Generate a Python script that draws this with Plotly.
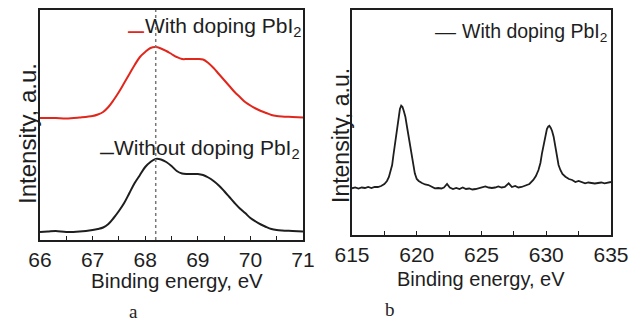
import plotly.graph_objects as go

# ---------------- data ----------------
# Panel a: Pb 4f region (binding energy, eV) and intensity (a.u.)
be_a = [66.0, 66.15, 66.3, 66.5, 66.75, 67.0, 67.1, 67.2, 67.3, 67.4, 67.5, 67.6, 67.7, 67.8, 67.9,
        68.0, 68.1, 68.2, 68.3, 68.4, 68.5, 68.6, 68.7, 68.8, 68.9, 69.0, 69.1, 69.2, 69.3, 69.4,
        69.5, 69.6, 69.7, 69.8, 69.9, 70.0, 70.1, 70.2, 70.3, 70.4, 70.5, 70.6, 70.8, 71.0]
with_pbi2_a = [122, 122, 122, 121.5, 122.5, 124, 125.5, 128, 133, 140, 148, 157, 166, 175, 183,
               188, 192, 193, 191.5, 189, 186, 183, 181, 181, 181, 181, 180.5, 177, 172, 166,
               160, 154, 148, 143, 138, 134.5, 131.5, 129, 127, 125, 124, 123.5, 123, 122.5]
without_pbi2_a = [8, 8.5, 9, 8, 8.5, 10, 11, 12.5, 16, 22, 29, 37, 47, 57, 65,
                  73, 78, 81, 80.5, 78, 74, 69, 66.5, 66, 66, 66, 65, 62.5, 59, 54.5,
                  49, 43, 37, 31.5, 27, 22, 18.5, 15.5, 13, 11, 10, 9.5, 9, 8.5]
peak_ref_a = 68.2

# Panel b: I 3d region
be_b = [615.0, 615.25, 615.5, 615.75, 616.0, 616.25, 616.5, 616.75, 617.0, 617.25, 617.5, 617.7,
        617.85, 618.0, 618.1, 618.2, 618.35, 618.5, 618.6, 618.7, 618.8, 618.9, 619.0, 619.12,
        619.25, 619.38, 619.5, 619.63, 619.75, 619.85, 620.0, 620.15, 620.4, 620.65, 620.9, 621.15,
        621.4, 621.65, 621.9, 622.1, 622.34, 622.55, 622.8, 623.05, 623.3, 623.55, 623.8, 624.05,
        624.3, 624.55, 624.8, 625.05, 625.3, 625.55, 625.8, 626.05, 626.3, 626.55, 626.8, 627.1,
        627.35, 627.6, 627.85, 628.1, 628.4, 628.7, 629.0, 629.2, 629.4, 629.55, 629.67, 629.8,
        629.93, 630.05, 630.15, 630.24, 630.35, 630.45, 630.57, 630.7, 630.83, 630.95, 631.09, 631.25,
        631.48, 631.75, 632.0, 632.25, 632.5, 632.75, 633.0, 633.25, 633.5, 633.75, 634.0, 634.25,
        634.5, 634.75, 635.0]
with_pbi2_b = [46.7, 47.5, 46.5, 47.5, 47, 48, 47, 48, 48, 49, 51, 54,
               58, 64, 70, 80, 95, 110, 119, 126, 129.3, 128, 124, 118.3,
               108, 98.3, 88, 78.3, 69, 61.7, 56, 54, 52, 50.5, 50, 48,
               46.7, 47, 46.5, 47.5, 51, 47.5, 46, 47, 46, 47.5, 46, 46.5,
               45.5, 46, 47, 48, 48.5, 47.5, 47, 47.5, 48.5, 47.5, 48, 51.7,
               48, 49, 47.5, 48, 49.5, 51, 55, 59, 65, 72, 81.7, 91,
               100, 106, 108.5, 109.3, 107, 104, 98.3, 89, 78.3, 70, 65, 61,
               58.3, 56, 55, 53, 54, 52.5, 51.7, 52.5, 52, 51.5, 52, 52.5,
               51.7, 52.5, 53]

label_with = "With doping PbI<sub>2</sub>"
label_without = "Without doping PbI<sub>2</sub>"
xtitle = "Binding energy, eV"
ytitle = "Intensity, a.u."

W, H = 640, 323
def px(x):
    return x / W
def py(y):
    return 1 - y / H

FONT = "Liberation Sans, Arial, sans-serif"
SERIF = "Liberation Serif, Times New Roman, serif"
INK = "#1e1e1e"
RED = "#e1261c"

fig = go.Figure()
fig.add_trace(go.Scatter(x=be_a, y=with_pbi2_a, mode="lines", line=dict(color=RED, width=2),
                         line_shape="spline", xaxis="x", yaxis="y", showlegend=False))
fig.add_trace(go.Scatter(x=be_a, y=without_pbi2_a, mode="lines", line=dict(color=INK, width=2),
                         line_shape="spline", xaxis="x", yaxis="y", showlegend=False))
fig.add_trace(go.Scatter(x=be_b, y=with_pbi2_b, mode="lines", line=dict(color=INK, width=1.8),
                         xaxis="x2", yaxis="y2", showlegend=False))

axis_common = dict(showline=True, linecolor=INK, linewidth=1.5, mirror=True,
                   showgrid=False, zeroline=False, automargin=False)

fig.update_layout(
    width=W, height=H,
    margin=dict(l=0, r=0, t=0, b=0, pad=0, autoexpand=False),
    paper_bgcolor="white", plot_bgcolor="white",
    font=dict(family=FONT, color=INK),
    xaxis=dict(domain=[px(40), px(303)], range=[66, 71], tickmode="linear", tick0=66, dtick=1,
               ticks="inside", ticklen=4, tickwidth=1.3, tickcolor=INK,
               minor=dict(ticks="inside", ticklen=4, tickwidth=1.3, tickcolor=INK, dtick=0.5),
               tickfont=dict(size=21, family=FONT, color=INK), anchor="y", **axis_common),
    yaxis=dict(domain=[py(240), py(10)], range=[0, 230], showticklabels=False, ticks="",
               anchor="x", **axis_common),
    xaxis2=dict(domain=[px(352), px(611)], range=[615, 635], tickmode="linear", tick0=615, dtick=5,
                ticks="inside", ticklen=4, tickwidth=1.3, tickcolor=INK,
                minor=dict(ticks="inside", ticklen=4, tickwidth=1.3, tickcolor=INK, dtick=2.5),
                tickfont=dict(size=21, family=FONT, color=INK), anchor="y2", **axis_common),
    yaxis2=dict(domain=[py(235), py(10)], range=[0, 225], showticklabels=False, ticks="",
                anchor="x2", **axis_common),
)

# dotted reference line at the peak position
fig.add_shape(type="line", xref="x", yref="y domain", x0=peak_ref_a, x1=peak_ref_a, y0=0, y1=1,
              line=dict(color="#777777", width=1.5, dash="dot"))

ann = []
# axis titles
ann.append(dict(text=xtitle, x=px(177), y=py(280), font=dict(size=20.5)))
ann.append(dict(text=xtitle, x=px(481), y=py(279), font=dict(size=20)))
ann.append(dict(text=ytitle, x=px(27), y=py(134), textangle=-90, font=dict(size=24)))
ann.append(dict(text=ytitle, x=px(341), y=py(136), textangle=-90, font=dict(size=23)))
# legend-like labels
ann.append(dict(text="<b>—</b>", x=px(135.5), y=py(31.5), font=dict(size=16, color=RED)))
ann.append(dict(text=label_with, x=px(143), y=py(27), xanchor="left", font=dict(size=21)))
ann.append(dict(text="<b>—</b>", x=px(106.5), y=py(153), font=dict(size=14, color=INK)))
ann.append(dict(text=label_without, x=px(112), y=py(149), xanchor="left", font=dict(size=21)))
ann.append(dict(text="—", x=px(445), y=py(31), font=dict(size=21, color=INK)))
ann.append(dict(text=label_with, x=px(460), y=py(32), xanchor="left", font=dict(size=19.5)))
# panel labels
ann.append(dict(text="a", x=px(133), y=py(311), font=dict(size=19, family=SERIF)))
ann.append(dict(text="b", x=px(390), y=py(309), font=dict(size=19, family=SERIF)))

for a in ann:
    a.setdefault("xanchor", "center")
    a.setdefault("yanchor", "middle")
    a["xref"] = "paper"
    a["yref"] = "paper"
    a["showarrow"] = False
    f = a.get("font", {})
    f.setdefault("family", FONT)
    f.setdefault("color", INK)
    a["font"] = f
    fig.add_annotation(**a)

fig.write_html("out.html")
